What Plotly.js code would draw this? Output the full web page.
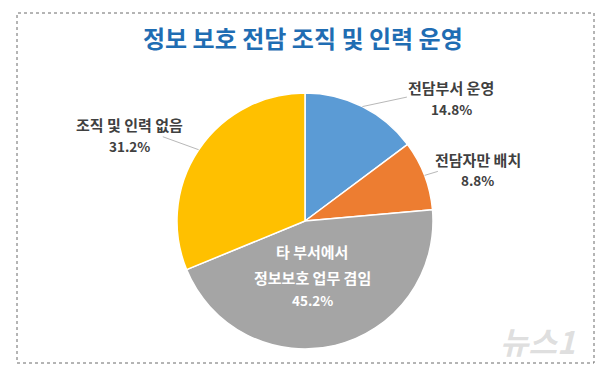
<!DOCTYPE html>
<html>
<head>
<meta charset="utf-8">
<script src="https://cdn.plot.ly/plotly-3.0.1.min.js"></script>
<style>html,body{margin:0;padding:0;background:#fff;}#chart{width:613px;height:374px;}</style>
</head>
<body>
<div id="chart"></div>
<script>
// ---- data ----
const chartTitle = '정보 보호 전담 조직 및 인력 운영';
const categories = ['전담부서 운영', '전담자만 배치', '타 부서에서 정보보호 업무 겸임', '조직 및 인력 없음'];
const labelLines = [['전담부서 운영'], ['전담자만 배치'], ['타 부서에서', '정보보호 업무 겸임'], ['조직 및 인력 없음']];
const shares = [14.8, 8.8, 45.2, 31.2];
const sliceColors = ['#5b9bd5', '#ed7d31', '#a5a5a5', '#ffc000'];

// ---- layout constants (style) ----
const W = 613, H = 374;
const CX = 305, CY = 221, R = 128;
const FONT = '"Noto Sans CJK KR", "Noto Sans", sans-serif';
// label offsets in pixels from the slice's outer mid point (outside) or pie centre (inside)
const labelStyle = [
  {mode: 'out', dx: 89, dy: -19},
  {mode: 'out', dx: 53, dy: -16},
  {mode: 'in', dx: 7, dy: 30},
  {mode: 'out', dx: -69, dy: -25}
];

function toPaper(x, y) { return [x / W, 1 - y / H]; }
function textAnn(x, y, text, font) {
  const p = toPaper(x, y);
  return {x: p[0], y: p[1], xref: 'paper', yref: 'paper', xanchor: 'center', yanchor: 'middle',
          text: text, showarrow: false, font: font};
}

const total = shares.reduce((a, b) => a + b, 0);
let cum = 0;
const annotations = [];
shares.forEach((v, i) => {
  const mid = (cum + v / 2) / total * 2 * Math.PI; // clockwise from 12 o'clock
  cum += v;
  const st = labelStyle[i];
  const pct = v.toFixed(1) + '%';
  if (st.mode === 'out') {
    const ex = CX + R * Math.sin(mid), ey = CY - R * Math.cos(mid);
    const p = toPaper(ex, ey);
    annotations.push({
      x: p[0], y: p[1], xref: 'paper', yref: 'paper', xanchor: 'center', yanchor: 'middle',
      text: '<b>' + labelLines[i].join('<br>') + '</b>',
      showarrow: true, arrowhead: 0, arrowwidth: 1, arrowcolor: '#b8b8b8',
      ax: st.dx, ay: st.dy, standoff: 0,
      font: {family: FONT, size: 15, color: '#404040'}
    });
    annotations.push(textAnn(ex + st.dx, ey + st.dy + 21, '<b>' + pct + '</b>',
      {family: FONT, size: 13.5, color: '#404040'}));
  } else {
    const bx = CX + st.dx, by = CY + st.dy;
    const lines = labelLines[i].concat([pct]);
    const gaps = [0, 26, 49];
    lines.forEach((t, k) => {
      annotations.push(textAnn(bx, by + gaps[k], '<b>' + t + '</b>',
        {family: FONT, size: k === lines.length - 1 ? 13.5 : 15, color: '#ffffff'}));
    });
  }
});

// title
annotations.push(textAnn(303, 38, '<b>' + chartTitle + '</b>',
  {family: FONT, size: 24, color: '#1f6db3'}));
// watermark
annotations.push(textAnn(537, 340, '<b><i>뉴스1</i></b>',
  {family: FONT, size: 31, color: 'rgba(195,195,195,0.55)'}));

const trace = {
  type: 'pie',
  labels: categories,
  values: shares,
  sort: false,
  direction: 'clockwise',
  rotation: 0,
  textinfo: 'none',
  hoverinfo: 'label+percent',
  marker: {colors: sliceColors, line: {color: '#ffffff', width: 1.5}},
  domain: {x: [(CX - R) / W, (CX + R) / W], y: [1 - (CY + R) / H, 1 - (CY - R) / H]},
  showlegend: false
};

const layout = {
  width: W, height: H,
  margin: {l: 0, r: 0, t: 0, b: 0},
  paper_bgcolor: '#ffffff',
  showlegend: false,
  annotations: annotations,
  shapes: [{
    type: 'rect', xref: 'paper', yref: 'paper',
    x0: 17 / W, x1: 594 / W, y0: 1 - 363 / H, y1: 1 - 13 / H,
    line: {color: '#6a6a6a', width: 1, dash: 'dot'}
  }]
};

Plotly.newPlot('chart', [trace], layout, {displayModeBar: false, staticPlot: true});
</script>
</body>
</html>
